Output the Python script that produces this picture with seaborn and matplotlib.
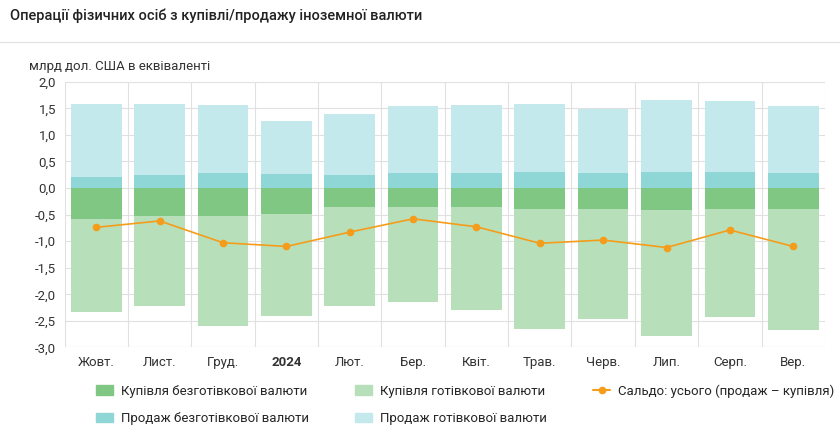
import matplotlib.pyplot as plt
import seaborn as sns
import pandas as pd
import numpy as np
from matplotlib.lines import Line2D
from matplotlib.patches import Patch

months = ["Жовт.", "Лист.", "Груд.", "2024", "Лют.", "Бер.", "Квіт.", "Трав.", "Черв.", "Лип.", "Серп.", "Вер."]
cashless_sale = [0.20, 0.24, 0.29, 0.26, 0.25, 0.28, 0.28, 0.30, 0.28, 0.31, 0.30, 0.28]
total_sale = [1.58, 1.59, 1.56, 1.27, 1.39, 1.55, 1.56, 1.58, 1.48, 1.65, 1.64, 1.55]
cashless_buy = [-0.58, -0.52, -0.53, -0.49, -0.36, -0.36, -0.36, -0.39, -0.39, -0.42, -0.39, -0.40]
total_buy = [-2.33, -2.23, -2.60, -2.40, -2.22, -2.15, -2.30, -2.65, -2.46, -2.78, -2.43, -2.68]
saldo = [-0.74, -0.62, -1.03, -1.10, -0.83, -0.58, -0.73, -1.04, -0.98, -1.12, -0.79, -1.10]

c_cl_buy = "#81c784"
c_cl_sale = "#8fd6d6"
c_cash_buy = "#b7e0ba"
c_cash_sale = "#c4e9ec"
c_saldo = "#f59c1a"

sns.set_theme(style="white")
plt.rcParams['font.family'] = ['Roboto', 'DejaVu Sans']

fig = plt.figure(figsize=(8.4, 4.37), dpi=100)
ax = fig.add_axes([0.077, 0.205, 0.905, 0.608])

df = pd.DataFrame({"m": months, "cs": cashless_sale, "ts": total_sale,
                   "cb": cashless_buy, "tb": total_buy, "saldo": saldo})
kw = dict(x="m", ax=ax, width=0.8, linewidth=0, saturation=1, data=df)
sns.barplot(y="ts", color=c_cash_sale, **kw)
sns.barplot(y="cs", color=c_cl_sale, **kw)
sns.barplot(y="tb", color=c_cash_buy, **kw)
sns.barplot(y="cb", color=c_cl_buy, **kw)
ax.plot(np.arange(len(months)), df["saldo"], color=c_saldo, lw=1.2, marker="o", ms=4.5)

ax.set_ylim(-3, 2)
ax.set_xlim(-0.5, len(months) - 0.5)
ax.set_yticks(np.arange(-3, 2.01, 0.5))
ax.set_yticklabels([f"{v:.1f}".replace(".", ",").replace("-", "-") for v in np.arange(-3, 2.01, 0.5)], fontsize=9.5, color="#333")
ax.set_xticks(np.arange(len(months)) , months, fontsize=9.5, color="#333")
for lbl in ax.get_xticklabels():
    if lbl.get_text() == "2024":
        lbl.set_fontweight("bold")
ax.set_xticks(np.arange(len(months) + 1) - 0.5, minor=True)
ax.grid(True, axis="y", color="#e0e0e0", lw=0.8)
ax.grid(True, axis="x", which="minor", color="#e0e0e0", lw=0.8)
ax.set_axisbelow(True)
ax.tick_params(axis="both", length=0, pad=6)
ax.set_xlabel("")
ax.set_ylabel("")
for s in ax.spines.values():
    s.set_visible(False)
ax.axhline(-3, color="#cccccc", lw=0.8)

fig.text(0.012, 0.955, "Операції фізичних осіб з купівлі/продажу іноземної валюти", fontsize=10.5, color="#222", fontweight="medium")
fig.add_artist(Line2D([0, 1], [0.905, 0.905], color="#e0e0e0", lw=0.8))
fig.text(0.035, 0.84, "млрд дол. США в еквіваленті", fontsize=9.5, color="#333")

handles = [Patch(color=c_cl_buy), Patch(color=c_cl_sale), Patch(color=c_cash_buy),
           Patch(color=c_cash_sale), Line2D([], [], color=c_saldo, marker="o", ms=4.5)]
labels = ["Купівля безготівкової валюти", "Продаж безготівкової валюти", "Купівля готівкової валюти",
          "Продаж готівкової валюти", "Сальдо: усього (продаж – купівля)"]
fig.legend(handles, labels, ncol=3, loc="lower left", bbox_to_anchor=(0.1, 0.0), frameon=False,
           fontsize=9.5, columnspacing=3.5, handlelength=1.3, handletextpad=0.6, labelspacing=1.1)

fig.savefig("out.png", dpi=100)
